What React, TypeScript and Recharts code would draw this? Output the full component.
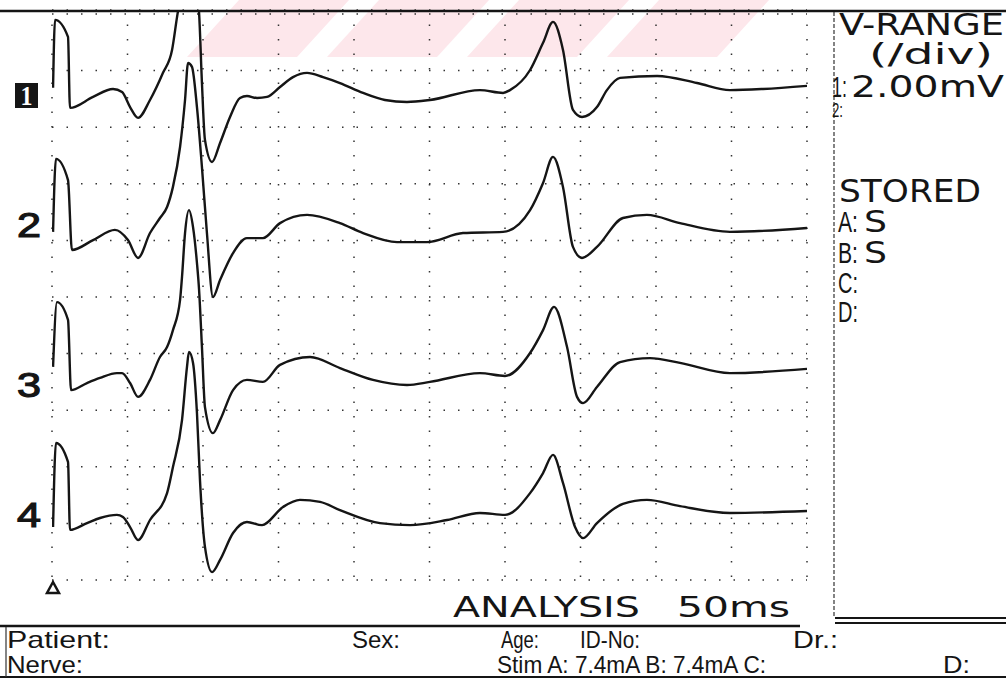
import { CartesianGrid, Line, LineChart, XAxis, YAxis } from "recharts";

// 10 divisions of 5 ms, 10 divisions of 2 mV
const timeTicks = [0, 5, 10, 15, 20, 25, 30, 35, 40, 45, 50];
const mvTicks = [0, 2, 4, 6, 8, 10, 12, 14, 16, 18, 20];

// each trace is drawn at its own offset on the stacked display (mV)
const trace1Ms = [0.07, 0.2, 1.06, 1.19, 2.72, 4.04, 4.64, 5.17, 5.7, 6.49, 7.35, 7.95, 8.28, 8.68, 9.07, 9.47, 9.74, 9.93, 10.13, 10.6, 11.13, 11.79, 12.45, 12.91, 13.58, 14.24, 15.1, 15.96, 16.89, 17.95, 19.07, 20.6, 22.05, 23.51, 25.03, 28.34, 29.87, 30.33, 31.66, 32.52, 33.18, 33.84, 34.5, 35.1, 36.09, 36.75, 37.62, 40.07, 42.72, 44.9, 47.09, 50];
const trace1Mv = [17.39, 19.79, 19.19, 16.68, 17.07, 17.35, 17.24, 16.71, 16.33, 16.96, 17.92, 18.73, 19.89, 21.2, 23.14, 21.2, 20.04, 17.56, 15.55, 14.77, 15.44, 16.36, 17.03, 17.1, 17.03, 17.07, 17.42, 17.77, 17.92, 17.77, 17.56, 17.21, 16.96, 16.89, 16.96, 17.31, 17.21, 17.31, 18.02, 18.98, 19.72, 18.73, 16.61, 16.36, 16.71, 17.31, 17.74, 17.81, 17.56, 17.31, 17.35, 17.46];

const trace2Ms = [0.07, 0.26, 1.06, 1.32, 2.72, 4.17, 5.03, 5.7, 6.49, 7.15, 7.62, 8.01, 8.48, 8.81, 9.01, 9.27, 9.6, 9.93, 10.26, 10.66, 11.13, 11.99, 12.91, 13.97, 15.1, 16.89, 19.07, 20.6, 22.85, 24.83, 27.22, 29.87, 31.66, 32.52, 33.18, 33.84, 34.5, 35.1, 36.09, 37.81, 39.4, 41.59, 44.9, 50];
const trace2Mv = [12.3, 14.88, 14.13, 11.66, 12.01, 12.37, 12.01, 11.38, 12.26, 12.79, 13.18, 13.89, 15.3, 16.96, 18.27, 18.13, 16.71, 14.59, 12.26, 10.0, 10.6, 11.55, 12.08, 12.08, 12.61, 12.9, 12.61, 12.26, 11.94, 11.94, 12.26, 12.3, 13.07, 14.03, 14.95, 13.89, 11.77, 11.38, 11.77, 12.79, 12.9, 12.61, 12.3, 12.44];

const trace3Ms = [0.07, 0.33, 1.06, 1.26, 2.32, 3.18, 4.3, 4.64, 5.17, 5.7, 6.49, 7.15, 7.62, 8.01, 8.48, 8.61, 8.81, 9.07, 9.34, 9.6, 9.74, 9.93, 10.13, 10.66, 11.13, 11.99, 12.91, 13.97, 15.1, 17.09, 19.07, 21.26, 23.51, 25.03, 28.34, 30.0, 31.66, 32.52, 33.25, 34.11, 34.77, 35.17, 36.09, 37.62, 39.6, 41.59, 44.9, 50];
const trace3Mv = [7.53, 9.82, 9.19, 6.71, 6.96, 7.14, 7.31, 7.31, 6.96, 6.47, 7.07, 7.88, 8.23, 8.83, 9.89, 10.71, 12.26, 13.07, 12.47, 11.2, 10.25, 8.23, 6.11, 5.19, 5.65, 6.71, 7.07, 7.0, 7.6, 7.88, 7.49, 7.07, 6.89, 7.0, 7.31, 7.21, 8.02, 8.83, 9.65, 8.23, 6.47, 6.25, 6.82, 7.7, 7.84, 7.67, 7.31, 7.46];

const trace4Ms = [0.07, 0.26, 1.06, 1.19, 2.32, 3.18, 4.3, 4.7, 5.17, 5.7, 6.49, 7.62, 8.01, 8.61, 8.94, 9.07, 9.34, 9.6, 9.8, 10.13, 10.6, 11.13, 11.99, 12.91, 13.91, 15.3, 16.42, 17.75, 19.07, 21.72, 23.71, 26.16, 28.34, 30.0, 31.66, 32.52, 33.18, 33.84, 34.64, 35.17, 36.09, 37.81, 39.4, 41.59, 44.9, 50];
const trace4Mv = [1.87, 4.84, 4.17, 1.77, 2.01, 2.19, 2.3, 2.23, 1.87, 1.41, 2.12, 3.07, 3.99, 5.65, 7.53, 8.06, 7.67, 5.9, 3.53, 1.17, 0.28, 0.71, 1.66, 2.05, 1.94, 2.58, 2.83, 2.76, 2.47, 2.01, 1.94, 2.12, 2.37, 2.3, 3.07, 3.78, 4.42, 3.43, 1.87, 1.48, 2.01, 2.69, 2.83, 2.61, 2.37, 2.44];

const traceLabels = ["1", "2", "3", "4"];
const storedSlots = ["A", "B", "C", "D"];
const storedValues = ["S", "S", "", ""];

const toPoints = (ms: number[], mv: number[]) => ms.map((t, i) => ({ t, v: mv[i] }));

const traces = [
  toPoints(trace1Ms, trace1Mv),
  toPoints(trace2Ms, trace2Mv),
  toPoints(trace3Ms, trace3Mv),
  toPoints(trace4Ms, trace4Mv),
];

const SANS = "'DejaVu Sans', Arial, sans-serif";
const NARROW = "'Liberation Sans Narrow', 'Liberation Sans', Arial, sans-serif";
const INK = "#151515";

let measureCtx: CanvasRenderingContext2D | null = null;
function textWidth(text: string, size: number, family: string, weight: number) {
  if (!measureCtx) measureCtx = document.createElement("canvas").getContext("2d");
  if (!measureCtx) return text.length * size * 0.6;
  measureCtx.font = `${weight} ${size}px ${family}`;
  return measureCtx.measureText(text).width || text.length * size * 0.6;
}

// printer glyphs are squeezed or stretched horizontally only, so scale x to the printed width
function Txt({
  x,
  y,
  w,
  size,
  family = SANS,
  weight = 400,
  fill = INK,
  anchor = "start",
  bold = 0,
  children,
}: {
  x: number;
  y: number;
  w: number;
  size: number;
  family?: string;
  weight?: number;
  fill?: string;
  anchor?: "start" | "middle";
  bold?: number;
  children: string;
}) {
  const sx = w / textWidth(children, size, family, weight);
  return (
    <text
      transform={`translate(${x} ${y}) scale(${sx.toFixed(3)} 1)`}
      fontSize={size}
      fontFamily={family}
      fontWeight={weight}
      fill={fill}
      stroke={bold ? fill : "none"}
      strokeWidth={bold}
      textAnchor={anchor}
    >
      {children}
    </text>
  );
}

// faint pink diagonal stripes along the top of the scan
function Watermark() {
  const starts = [187, 327, 467, 607];
  return (
    <svg width={1006} height={688} style={{ position: "absolute", left: 0, top: 0 }}>
      {starts.map((bx) => (
        <polygon
          key={bx}
          points={`${bx},57 ${bx + 110},57 ${bx + 162},0 ${bx + 52},0`}
          fill="#fde7eb"
        />
      ))}
    </svg>
  );
}

function Printout() {
  const labelY = [105, 237, 397, 527];
  const slotY = [232, 263, 293, 322];
  return (
    <svg
      width={1006}
      height={688}
      style={{ position: "absolute", left: 0, top: 0, pointerEvents: "none" }}
    >
      {/* frame */}
      <line x1={0} y1={11} x2={1006} y2={11} stroke={INK} strokeWidth={2.5} />
      <line x1={834} y1={12} x2={834} y2={618} stroke="#333" strokeWidth={1.2} strokeDasharray="4 2" />
      <line x1={0} y1={626} x2={800} y2={626} stroke={INK} strokeWidth={2.5} />
      <line x1={835} y1={618} x2={1006} y2={618} stroke={INK} strokeWidth={2} />
      <line x1={835} y1={623} x2={1006} y2={623} stroke={INK} strokeWidth={2} />
      <line x1={0} y1={677} x2={1006} y2={677} stroke={INK} strokeWidth={2} />
      <line x1={6} y1={627} x2={6} y2={677} stroke="#333" strokeWidth={1.2} />

      {/* trace numbers */}
      <rect x={15} y={83} width={23} height={25} fill={INK} />
      <Txt x={26.5} y={labelY[0]} w={12} size={27} weight={700} fill="#fff" anchor="middle" family="'Liberation Serif', serif">
        {traceLabels[0]}
      </Txt>
      {traceLabels.slice(1).map((lab, i) => (
        <Txt key={lab} x={17} y={labelY[i + 1]} w={24} size={35} bold={1.2} family="'Liberation Sans', Arial, sans-serif">
          {lab}
        </Txt>
      ))}
      <polygon points="47,593 59,593 53,582" fill="none" stroke={INK} strokeWidth={2.5} />

      {/* right panel */}
      <Txt x={839} y={35} w={165} size={30}>V-RANGE</Txt>
      <Txt x={869} y={64} w={124} size={28}>(/div)</Txt>
      <Txt x={832} y={97} w={15} size={29} family={NARROW}>1:</Txt>
      <Txt x={851} y={97} w={153} size={30}>2.00mV</Txt>
      <Txt x={832} y={117} w={11} size={21} family={NARROW}>2:</Txt>
      <Txt x={839} y={202} w={142} size={32}>STORED</Txt>
      {storedSlots.map((slot, i) => (
        <g key={slot}>
          <Txt x={838} y={slotY[i]} w={20} size={30} family={NARROW}>{`${slot}:`}</Txt>
          {storedValues[i] ? (
            <Txt x={864} y={slotY[i]} w={23} size={31}>{storedValues[i]}</Txt>
          ) : null}
        </g>
      ))}

      {/* footer */}
      <Txt x={453} y={617} w={187} size={28}>ANALYSIS</Txt>
      <Txt x={677} y={617} w={113} size={28}>50ms</Txt>
      <Txt x={7} y={648} w={103} size={24} family={NARROW}>Patient:</Txt>
      <Txt x={352} y={648} w={48} size={24} family={NARROW}>Sex:</Txt>
      <Txt x={501} y={648} w={38} size={24} family={NARROW}>Age:</Txt>
      <Txt x={580} y={648} w={60} size={24} family={NARROW}>ID-No:</Txt>
      <Txt x={793} y={648} w={45} size={24} family={NARROW}>Dr.:</Txt>
      <Txt x={7} y={673} w={76} size={24} family={NARROW}>Nerve:</Txt>
      <Txt x={497} y={673} w={273} size={24} family={NARROW}>Stim A: 7.4mA B: 7.4mA C:</Txt>
      <Txt x={943} y={673} w={27} size={24} family={NARROW}>D:</Txt>
    </svg>
  );
}

export default function App() {
  return (
    <div
      style={{
        position: "absolute",
        left: 0,
        top: 0,
        width: 1006,
        height: 688,
        background: "#fff",
        overflow: "hidden",
      }}
    >
      <Watermark />
      <div style={{ position: "absolute", left: 0, top: 0 }}>
        <LineChart width={1006} height={688} margin={{ top: 10, right: 199, bottom: 108, left: 52 }}>
          <CartesianGrid stroke="#333" strokeWidth={1.5} strokeDasharray="1.5 13" />
          <XAxis
            dataKey="t"
            type="number"
            domain={[0, 50]}
            ticks={timeTicks}
            allowDataOverflow
            hide
          />
          <YAxis type="number" domain={[0, 20.14]} ticks={mvTicks} allowDataOverflow hide />
          {traces.map((pts, i) => (
            <Line
              key={traceLabels[i]}
              data={pts}
              dataKey="v"
              type="monotone"
              stroke={INK}
              strokeWidth={2.4}
              dot={false}
              activeDot={false}
              isAnimationActive={false}
            />
          ))}
        </LineChart>
      </div>
      <Printout />
    </div>
  );
}
